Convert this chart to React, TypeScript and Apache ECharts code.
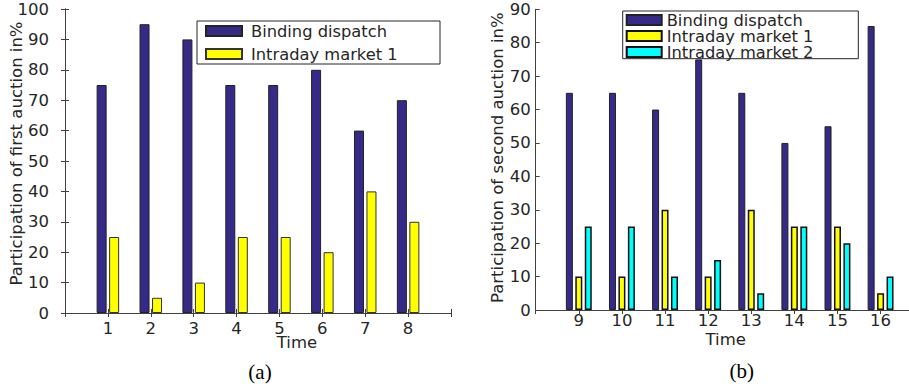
import React, { useEffect, useRef } from 'react';
import * as echarts from 'echarts';

// ---------- data ----------
const timesA = ['1', '2', '3', '4', '5', '6', '7', '8'];
const bindingA = [75, 95, 90, 75, 75, 80, 60, 70];
const intraday1A = [25, 5, 10, 25, 25, 20, 40, 30];

const timesB = ['9', '10', '11', '12', '13', '14', '15', '16'];
const bindingB = [65, 65, 60, 75, 65, 50, 55, 85];
const intraday1B = [10, 10, 30, 10, 30, 25, 25, 5];
const intraday2B = [25, 25, 10, 15, 5, 25, 20, 10];

// frame (tick) ranges of the time axes: one empty slot on each side
const xRangeA = { min: 0, max: 9, interval: 1 };
const xRangeB = { min: 8, max: 17, interval: 1 };
const yRangeA = { min: 0, max: 100, interval: 10 };
const yRangeB = { min: 0, max: 90, interval: 10 };

const seriesNames = ['Binding dispatch', 'Intraday market 1', 'Intraday market 2'];
const yNameA = 'Participation of first auction in%';
const yNameB = 'Participation of second auction in%';
const xName = 'Time';

// ---------- styles ----------
const FONT = 'DejaVu Sans';
const TEXT = '#262626';
const AXIS = '#404040';
const BLUE = '#352a87';
const YELLOW = '#ffff00';
const CYAN = '#00ffff';
const FS = 16.5;

type Range = { min: number; max: number; interval: number };

// frame grid (index 0) carries the visible axes; bar grid (index 1) holds the bars
function axes(xr: Range, yr: Range, cats: string[], cfg: any) {
  const tick = { show: true, inside: true, length: 4, lineStyle: { color: AXIS } };
  const line = { show: true, lineStyle: { color: AXIS, width: 1 } };
  const txt = { fontSize: FS, fontFamily: FONT, color: TEXT };
  const hideEnds = (v: number) => (v === xr.min || v === xr.max ? '' : String(v));
  const hidden = { show: false };
  return {
    xAxis: [
      {
        type: 'value',
        gridIndex: 0,
        ...xr,
        position: 'bottom',
        axisLine: line,
        axisTick: tick,
        axisLabel: { ...txt, margin: cfg.xLabelMargin, formatter: hideEnds },
        splitLine: hidden,
        name: xName,
        nameLocation: 'middle',
        nameGap: cfg.xNameGap,
        nameMoveOverlap: false,
        nameTextStyle: { ...txt, padding: cfg.xNamePad },
      },
      {
        type: 'value',
        gridIndex: 0,
        ...xr,
        position: 'top',
        axisLine: line,
        axisTick: tick,
        axisLabel: hidden,
        splitLine: hidden,
      },
      {
        type: 'category',
        gridIndex: 1,
        data: cats,
        boundaryGap: true,
        axisLine: hidden,
        axisTick: hidden,
        axisLabel: hidden,
        splitLine: hidden,
      },
    ],
    yAxis: [
      {
        type: 'value',
        gridIndex: 0,
        ...yr,
        axisLine: line,
        axisTick: tick,
        axisLabel: { ...txt, margin: cfg.yLabelMargin, padding: cfg.yLabelPad },
        splitLine: hidden,
        name: cfg.yName,
        nameLocation: 'middle',
        nameGap: cfg.yNameGap,
        nameMoveOverlap: false,
        nameTextStyle: { ...txt, padding: cfg.yNamePad },
      },
      {
        type: 'value',
        gridIndex: 0,
        ...yr,
        position: 'right',
        axisLine: line,
        axisTick: tick,
        axisLabel: hidden,
        splitLine: hidden,
      },
      {
        type: 'value',
        gridIndex: 1,
        ...yr,
        axisLine: hidden,
        axisTick: hidden,
        axisLabel: hidden,
        splitLine: hidden,
      },
    ],
  };
}

function grids(left: number, top: number, width: number, height: number, slots: number) {
  const unit = width / slots;
  return [
    { left, top, width, height, containLabel: false, outerBoundsMode: 'none' },
    { left: left + unit / 2, top, width: width - unit, height, containLabel: false, outerBoundsMode: 'none' },
  ];
}

function legendBox(x: number, y: number, w: number, h: number) {
  return {
    type: 'rect',
    z: 3,
    shape: { x, y, width: w, height: h },
    style: { fill: '#fff', stroke: TEXT, lineWidth: 1 },
  };
}

function caption(text: string, x: number, y: number) {
  return {
    type: 'text',
    x,
    y,
    style: {
      text,
      fontSize: 21,
      fontFamily: 'Liberation Serif',
      fill: '#000',
      textAlign: 'center',
      textVerticalAlign: 'middle',
    },
  };
}

function bar(name: string, data: number[], color: string, border: string, bw: number, width: number, gap: string) {
  return {
    name,
    type: 'bar',
    xAxisIndex: 2,
    yAxisIndex: 2,
    data,
    barWidth: width,
    barGap: gap,
    itemStyle: { color, borderColor: border, borderWidth: bw },
  };
}

function buildLeft(): any {
  return {
    animation: false,
    backgroundColor: '#fff',
    grid: grids(65, 9, 386, 304, xRangeA.max - xRangeA.min),
    ...axes(xRangeA, yRangeA, timesA, {
      xLabelMargin: 7,
      xNameGap: 21,
      xNamePad: [0, 0, 0, 78],
      yLabelMargin: 16,
      yLabelPad: [7, 0, 0, 0],
      yName: yNameA,
      yNameGap: 40,
      yNamePad: [0, 0, 0, 15],
    }),
    legend: {
      orient: 'vertical',
      left: 205,
      top: 22,
      data: [seriesNames[0], seriesNames[1]],
      icon: 'rect',
      itemWidth: 36,
      itemHeight: 10,
      itemGap: 5,
      padding: 0,
      z: 4,
      textStyle: { fontSize: 16.3, fontFamily: FONT, color: TEXT, lineHeight: 18, padding: [0, 0, 0, 4] },
    },
    series: [
      bar(seriesNames[0], bindingA, BLUE, '#222', 1, 10, '25%'),
      bar(seriesNames[1], intraday1A, YELLOW, '#333', 1, 10, '25%'),
    ],
    graphic: [legendBox(197, 21, 243, 43), caption('(a)', 260, 372)],
  };
}

function buildRight(): any {
  return {
    animation: false,
    backgroundColor: '#fff',
    grid: grids(75.7, 9.3, 388, 300.7, xRangeB.max - xRangeB.min),
    ...axes(xRangeB, yRangeB, timesB, {
      xLabelMargin: 2,
      xNameGap: 21,
      xNamePad: [0, 8, 0, 0],
      yLabelMargin: 5,
      yLabelPad: [3, 0, 0, 0],
      yName: yNameB,
      yNameGap: 30,
      yNamePad: [0, 0, 0, 4],
    }),
    legend: {
      orient: 'vertical',
      left: 165.7,
      top: 12,
      data: seriesNames,
      icon: 'rect',
      itemWidth: 35,
      itemHeight: 10,
      itemGap: 0,
      padding: 0,
      z: 4,
      textStyle: { fontSize: 16.3, fontFamily: FONT, color: TEXT, lineHeight: 15 },
    },
    series: [
      bar(seriesNames[0], bindingB, BLUE, '#222', 1, 7, '35%'),
      bar(seriesNames[1], intraday1B, YELLOW, '#111', 1.5, 7, '35%'),
      bar(seriesNames[2], intraday2B, CYAN, '#111', 1.5, 7, '35%'),
    ],
    graphic: [legendBox(162.7, 11, 235.6, 47.7), caption('(b)', 281.7, 371)],
  };
}

export default function App() {
  const leftRef = useRef<HTMLDivElement>(null);
  const rightRef = useRef<HTMLDivElement>(null);
  useEffect(() => {
    const a = echarts.init(leftRef.current!, null, { renderer: 'svg' });
    a.setOption(buildLeft());
    const b = echarts.init(rightRef.current!, null, { renderer: 'svg' });
    b.setOption(buildRight());
    return () => {
      a.dispose();
      b.dispose();
    };
  }, []);
  return (
    <div
      style={{
        position: 'absolute',
        left: 0,
        top: 0,
        width: 909,
        height: 389,
        background: '#fff',
        overflow: 'hidden',
      }}
    >
      <div ref={leftRef} style={{ position: 'absolute', left: 0, top: 0, width: 460, height: 389 }} />
      <div ref={rightRef} style={{ position: 'absolute', left: 460, top: 0, width: 449, height: 389 }} />
    </div>
  );
}
